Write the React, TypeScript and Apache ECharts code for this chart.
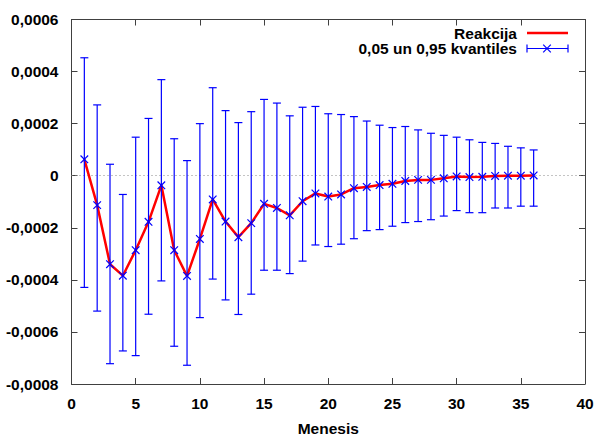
import React, { useEffect, useRef } from "react";
import * as echarts from "echarts";

const months = [
  1, 2, 3, 4, 5, 6, 7, 8, 9, 10, 11, 12, 13, 14, 15, 16, 17, 18,
  19, 20, 21, 22, 23, 24, 25, 26, 27, 28, 29, 30, 31, 32, 33, 34, 35, 36,
];

const reakcija = [
  0.000063, -0.000113, -0.00034, -0.000384, -0.000286, -0.000177, -0.000037,
  -0.000286, -0.000385, -0.000243, -0.000091, -0.000176, -0.000236, -0.000182,
  -0.000108, -0.000124, -0.000152, -0.000098, -0.000068, -0.00008, -0.000072,
  -0.000048, -0.000043, -0.000036, -0.000031, -0.00002, -0.000016, -0.000016,
  -0.00001, -0.000003, -0.000005, -0.000004, -0.000001, 0.0, 0.0, 0.000001,
];

const kvantile95 = [
  0.000453, 0.000272, 0.000044, -0.000072, 0.000148, 0.00022, 0.000369,
  0.000142, 0.000058, 0.0002, 0.000338, 0.00025, 0.000204, 0.000246, 0.000293,
  0.000279, 0.00023, 0.000263, 0.000266, 0.000238, 0.000235, 0.000227, 0.00021,
  0.000194, 0.000185, 0.000189, 0.000176, 0.000163, 0.000155, 0.000148,
  0.000138, 0.000128, 0.000124, 0.000113, 0.000107, 0.000099,
];

const kvantile05 = [
  -0.000429, -0.00052, -0.000722, -0.000673, -0.000691, -0.000532, -0.000404,
  -0.000655, -0.000728, -0.000545, -0.000397, -0.000477, -0.000533, -0.000455,
  -0.000363, -0.000363, -0.000376, -0.000328, -0.000266, -0.000272, -0.000263,
  -0.000242, -0.000211, -0.000207, -0.000194, -0.00018, -0.000176, -0.000169,
  -0.000155, -0.000134, -0.000142, -0.000142, -0.000124, -0.000124, -0.000117,
  -0.000117,
];

const xName = "Menesis";
const legendLine = "Reakcija";
const legendBars = "0,05 un 0,95 kvantiles";

const FONT = "'Liberation Sans', Arial, sans-serif";
const FS = 15.5;
const FRAME = "#404040";
const BLUE = "#0000ff";
const RED = "#ff0000";

function fmtY(v: number): string {
  if (Math.abs(v) < 1e-12) return "0";
  return v.toFixed(4).replace(".", ",");
}

export default function App() {
  const ref = useRef<HTMLDivElement>(null);

  useEffect(() => {
    if (!ref.current) return;
    const chart = echarts.init(ref.current, null, { renderer: "svg" });

    const lineData = months.map((m, i) => [m, reakcija[i]]);
    const barData = months.map((m, i) => [m, reakcija[i], kvantile05[i], kvantile95[i]]);

    const labelStyle = {
      color: "#000",
      fontFamily: FONT,
      fontSize: FS,
      fontWeight: "bold" as const,
    };

    const legendX0 = 527;
    const legendX1 = 568;
    const y1 = 33;
    const y2 = 48.5;
    const BW = 1.2;

    chart.setOption({
      animation: false,
      backgroundColor: "#ffffff",
      grid: { left: 71.5, right: 13, top: 19.5, bottom: 49, containLabel: false },
      xAxis: [
        {
          type: "value",
          min: 0,
          max: 40,
          interval: 5,
          position: "bottom",
          name: xName,
          nameLocation: "middle",
          nameGap: 36,
          nameTextStyle: labelStyle,
          axisLine: { show: true, onZero: false, lineStyle: { color: FRAME, width: 1 } },
          axisTick: { show: true, inside: true, length: 6, lineStyle: { color: FRAME } },
          axisLabel: { ...labelStyle, margin: 11 },
          splitLine: { show: false },
        },
        {
          type: "value",
          min: 0,
          max: 40,
          interval: 5,
          position: "top",
          axisLine: { show: true, onZero: false, lineStyle: { color: FRAME, width: 1 } },
          axisTick: { show: true, inside: true, length: 6, lineStyle: { color: FRAME } },
          axisLabel: { show: false },
          splitLine: { show: false },
        },
      ],
      yAxis: [
        {
          type: "value",
          min: -0.0008,
          max: 0.0006,
          interval: 0.0002,
          position: "left",
          axisLine: { show: true, onZero: false, lineStyle: { color: FRAME, width: 1 } },
          axisTick: { show: true, inside: true, length: 6, lineStyle: { color: FRAME } },
          axisLabel: { ...labelStyle, margin: 13, formatter: (v: number) => fmtY(v) },
          splitLine: { show: false },
        },
        {
          type: "value",
          min: -0.0008,
          max: 0.0006,
          interval: 0.0002,
          position: "right",
          axisLine: { show: true, onZero: false, lineStyle: { color: FRAME, width: 1 } },
          axisTick: { show: true, inside: true, length: 6, lineStyle: { color: FRAME } },
          axisLabel: { show: false },
          splitLine: { show: false },
        },
      ],
      series: [
        {
          name: legendLine,
          type: "line",
          xAxisIndex: 0,
          yAxisIndex: 0,
          data: lineData,
          showSymbol: false,
          symbol: "none",
          lineStyle: { color: RED, width: 2.5 },
          itemStyle: { color: RED },
          z: 2,
          markLine: {
            silent: true,
            symbol: "none",
            label: { show: false },
            lineStyle: { color: "#888", type: [1, 3], width: 1 },
            data: [{ yAxis: 0 }],
            z: 1,
          },
        },
        {
          name: legendBars,
          type: "custom",
          xAxisIndex: 0,
          yAxisIndex: 0,
          data: barData,
          encode: { x: 0, y: 1 },
          z: 3,
          renderItem: (params: any, api: any) => {
            const x = api.value(0);
            const c = api.coord([x, api.value(1)]);
            const lo = api.coord([x, api.value(2)]);
            const hi = api.coord([x, api.value(3)]);
            const cap = 4;
            const m = 3.8;
            const style = { stroke: BLUE, lineWidth: BW, fill: null };
            return {
              type: "group",
              children: [
                { type: "line", shape: { x1: lo[0], y1: lo[1], x2: hi[0], y2: hi[1] }, style },
                { type: "line", shape: { x1: lo[0] - cap, y1: lo[1], x2: lo[0] + cap, y2: lo[1] }, style },
                { type: "line", shape: { x1: hi[0] - cap, y1: hi[1], x2: hi[0] + cap, y2: hi[1] }, style },
                { type: "line", shape: { x1: c[0] - m, y1: c[1] - m, x2: c[0] + m, y2: c[1] + m }, style },
                { type: "line", shape: { x1: c[0] - m, y1: c[1] + m, x2: c[0] + m, y2: c[1] - m }, style },
              ],
            };
          },
        },
      ],
      graphic: [
        {
          type: "text",
          right: 598 - 517,
          top: y1 - 8,
          style: { text: legendLine, font: `bold ${FS}px ${FONT}`, fill: "#000", textAlign: "right" },
        },
        {
          type: "line",
          shape: { x1: legendX0, y1: y1, x2: legendX1, y2: y1 },
          style: { stroke: RED, lineWidth: 2.5 },
        },
        {
          type: "text",
          right: 598 - 517,
          top: y2 - 8,
          style: { text: legendBars, font: `bold ${FS}px ${FONT}`, fill: "#000", textAlign: "right" },
        },
        {
          type: "line",
          shape: { x1: legendX0, y1: y2, x2: legendX1, y2: y2 },
          style: { stroke: BLUE, lineWidth: BW },
        },
        {
          type: "line",
          shape: { x1: legendX0, y1: y2 - 4, x2: legendX0, y2: y2 + 4 },
          style: { stroke: BLUE, lineWidth: BW },
        },
        {
          type: "line",
          shape: { x1: legendX1, y1: y2 - 4, x2: legendX1, y2: y2 + 4 },
          style: { stroke: BLUE, lineWidth: BW },
        },
        {
          type: "line",
          shape: { x1: 547 - 3.8, y1: y2 - 3.8, x2: 547 + 3.8, y2: y2 + 3.8 },
          style: { stroke: BLUE, lineWidth: BW },
        },
        {
          type: "line",
          shape: { x1: 547 - 3.8, y1: y2 + 3.8, x2: 547 + 3.8, y2: y2 - 3.8 },
          style: { stroke: BLUE, lineWidth: BW },
        },
      ],
    });

    return () => chart.dispose();
  }, []);

  return (
    <div
      ref={ref}
      style={{ position: "fixed", left: 0, top: 0, width: 598, height: 441, background: "#fff" }}
    />
  );
}
